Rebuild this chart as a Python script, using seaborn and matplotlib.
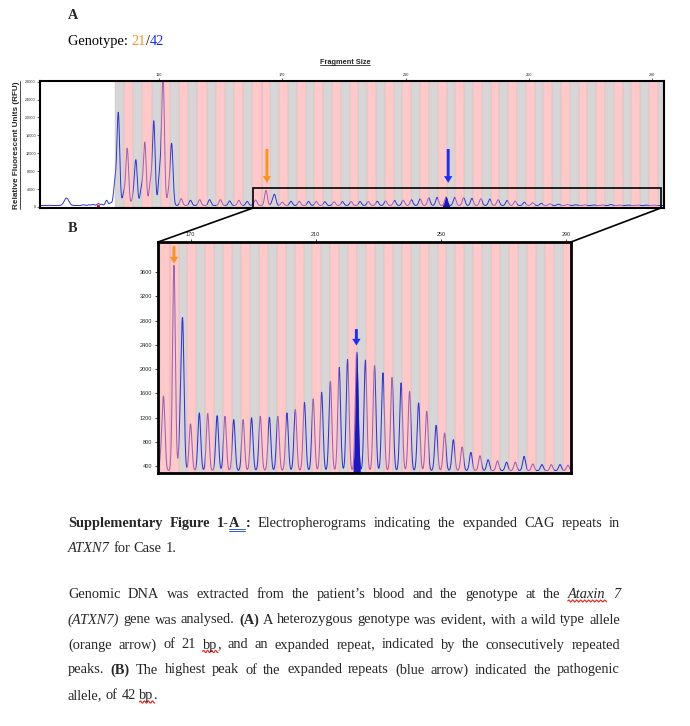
import numpy as np
import matplotlib
matplotlib.use("Agg")
import matplotlib.pyplot as plt
import seaborn as sns
from matplotlib.lines import Line2D
from matplotlib.patches import ConnectionPatch, Rectangle

FIG_W, FIG_H = 690, 726

# peaks: position (bp) and height (RFU)
pre_bp = [94.6, 100.0, 103.3, 105.4, 107.3, 108.6, 110.3, 111.4, 113.0, 114.3]
pre_rfu = [370, 2000, 300, 500, 500, 600, 750, 600, 1500, 900]
pre_width = [0.4, 0.75, 0.4, 0.4, 0.4, 0.4, 0.4, 0.4, 0.4, 0.4]

stutter_bp = [115.7, 116.8, 118.6, 119.7, 121.6, 122.5, 124.3, 125.4,
              127.2, 128.3, 130.2, 131.3, 133.2, 134.1]
stutter_rfu = [5200, 20900, 3000, 13000, 2200, 10300, 4100, 14300,
               5200, 19000, 7500, 29500, 3400, 13800]

small_bp = [137.2, 140.2, 143.2, 146.4, 149.9, 152.9, 155.9, 158.6]
small_rfu = [1870, 1500, 1640, 1640, 1640, 1350, 1500, 1250]

repeat_bp = [160.7, 161.4, 164.7, 166.8, 167.5, 170.0, 172.8, 175.5, 178.5,
             181.0, 183.8, 186.8, 189.5, 192.3, 195.2, 197.9, 200.8, 203.5,
             206.4, 209.2, 211.9, 214.7, 217.5, 220.2, 223.1, 225.9, 228.8,
             231.5, 234.4, 237.3, 240.0, 242.9, 245.5, 248.5, 251.2, 254.0,
             256.8, 259.6, 262.5, 265.1, 268.1, 271.0, 273.8, 276.6, 279.4,
             282.3, 285.3, 288.1, 290.6]
repeat_rfu = [600, 1470, 3710, 1100, 2590, 1100, 1280, 1270, 1235,
              1225, 1170, 1170, 1200, 1225, 1210, 1225, 1280, 1335,
              1455, 1510, 1620, 1800, 2030, 2160, 2280, 2150, 2060,
              1940, 1865, 1775, 1635, 1445, 1307, 1076, 950, 840,
              720, 630, 576, 510, 490, 470, 470, 565, 440,
              430, 430, 430, 420]

wild_type_bp = 164.7
pathogenic_bp = 223.1
red_marks_bp = [110.1]

A_TICKS_X = [130, 170, 210, 250, 290]
A_TICKS_Y = [0, 4000, 8000, 12000, 16000, 20000, 24000, 28000]
B_TICKS_Y = [400, 800, 1200, 1600, 2000, 2400, 2800, 3200, 3600]

BASELINE = 330
PEAK_SIGMA = 0.45
TRACE = "#3232d8"
PINK = (1.0, 0.58, 0.58)
GREY = "#d6d6d6"
ORANGE = "#f7941d"
BLUE = "#1a2cff"
SERIF = "Liberation Serif"

sns.set_theme(style="white")
plt.rcParams["font.family"] = ["Liberation Sans", "DejaVu Sans"]

# build the trace from the peak list
grid = np.linspace(91.0, 294.5, 9000)
signal = np.full_like(grid, float(BASELINE))
all_bp = pre_bp + stutter_bp + small_bp + repeat_bp
all_rfu = pre_rfu + stutter_rfu + small_rfu + repeat_rfu
all_w = pre_width + [PEAK_SIGMA] * (len(all_bp) - len(pre_bp))
for p, h, w in zip(all_bp, all_rfu, all_w):
    signal += max(h - BASELINE, 0) * np.exp(-0.5 * ((grid - p) / w) ** 2)

# allele bins (grey / pink alternating)
edges = list(np.arange(115.7, 163.3, 2.975)) + list(np.arange(163.3, 295.0, 2.855))


def px(x, y):
    return x / FIG_W, 1 - y / FIG_H


fig = plt.figure(figsize=(6.9, 7.26), dpi=100)
axA = fig.add_axes([40 / FIG_W, 1 - 208 / FIG_H, 624 / FIG_W, 127 / FIG_H])
axB = fig.add_axes([158 / FIG_W, 1 - 473 / FIG_H, 413 / FIG_W, 231 / FIG_H])


def draw_panel(ax, xlim, ylim, lw_spine, lw_trace):
    for i in range(len(edges) - 1):
        if i % 2 == 0:
            ax.axvspan(edges[i], edges[i + 1], color=GREY, lw=0, zorder=0)
        else:
            ax.axvspan(edges[i], edges[i + 1], color=PINK, alpha=0.5, lw=0, zorder=3)
    for e in edges:
        ax.axvline(e, color="#b89898", lw=0.3, alpha=0.5, zorder=3)
    sns.lineplot(x=grid, y=signal, ax=ax, color=TRACE, lw=lw_trace,
                 estimator=None, sort=False, zorder=2)
    sel = (grid > pathogenic_bp - 1.15) & (grid < pathogenic_bp + 1.15)
    ax.fill_between(grid[sel], 0, signal[sel], color="#1c16c4", lw=0, zorder=4)
    ax.set_xlim(*xlim)
    ax.set_ylim(*ylim)
    ax.set_xlabel("")
    ax.set_ylabel("")
    for sp in ax.spines.values():
        sp.set_linewidth(lw_spine)
        sp.set_color("black")
        sp.set_zorder(6)
    ax.xaxis.tick_top()


# Panel A
draw_panel(axA, (91.4, 293.8), (-225, 28135), 1.5, 0.7)
axA.set_xticks(A_TICKS_X)
axA.set_yticks(A_TICKS_Y)
axA.tick_params(axis="x", top=True, bottom=False, labeltop=True, labelbottom=False,
                length=2, width=0.5, labelsize=2.7, pad=1)
axA.tick_params(axis="y", left=True, length=2, width=0.5, labelsize=2.7, pad=1)
axA.plot(red_marks_bp, [120] * len(red_marks_bp), "s", color="red", ms=1.2, zorder=5)
axA.add_patch(Rectangle((160.5, -225), 292.8 - 160.5, 4276 + 225, fill=False,
                        ec="black", lw=1.2, zorder=7, clip_on=False))

arrow_style = "simple,head_length=0.6,head_width=0.75,tail_width=0.26"
for xb, col in [(wild_type_bp + 0.3, ORANGE), (pathogenic_bp + 0.7, BLUE)]:
    axA.annotate("", xy=(xb, 5400), xytext=(xb, 12950),
                 arrowprops=dict(arrowstyle=arrow_style, color=col, mutation_scale=8, lw=0,
                                 shrinkA=0, shrinkB=0), zorder=8)

# Panel B
draw_panel(axB, (159.6, 291.6), (291, 4094), 2.0, 0.75)
axB.set_xticks(A_TICKS_X[1:])
axB.set_yticks(B_TICKS_Y)
axB.tick_params(axis="x", top=True, bottom=False, labeltop=True, labelbottom=False,
                length=2.5, width=0.6, labelsize=4.0, pad=1)
axB.tick_params(axis="y", left=True, length=2.5, width=0.6, labelsize=4.0, pad=1.5)
for xb, y0, y1, col in [(wild_type_bp, 4030, 3740, ORANGE), (pathogenic_bp - 0.1, 2660, 2390, BLUE)]:
    axB.annotate("", xy=(xb, y1), xytext=(xb, y0),
                 arrowprops=dict(arrowstyle=arrow_style, color=col, mutation_scale=8, lw=0,
                                 shrinkA=0, shrinkB=0), zorder=8)

# zoom connectors
for xa, xbf in [(160.5, 0), (292.8, 1)]:
    con = ConnectionPatch(xyA=(xa, -225), coordsA=axA.transData, xyB=(xbf, 1),
                          coordsB=axB.transAxes, color="black", lw=1.2)
    fig.add_artist(con)

renderer = fig.canvas.get_renderer()


def text_w(s, **kw):
    t = fig.text(0, 0, s, **kw)
    w = t.get_window_extent(renderer).width
    t.remove()
    return w


# axis titles with underline
t = fig.text(*px(345, 62), "Fragment Size", ha="center", va="center",
             fontsize=5.3, weight="bold")
bb = t.get_window_extent(renderer)
fig.add_artist(Line2D([bb.x0 / 690, bb.x1 / 690], [(bb.y0 + 0.6) / 726] * 2,
                      color="black", lw=0.5))
t = fig.text(*px(17, 145), "Relative Fluorescent Units (RFU)", ha="center", va="center",
             rotation=90, fontsize=5.9, weight="bold")
bb = t.get_window_extent(renderer)
fig.add_artist(Line2D([(bb.x1 - 0.6) / 690] * 2, [bb.y0 / 726, bb.y1 / 726],
                      color="black", lw=0.5))

# panel letters and genotype
SIZE = 10.4
fig.text(*px(68, 19), "A", family=SERIF, weight="bold", fontsize=10.3, va="baseline")
fig.text(*px(68, 232), "B", family=SERIF, weight="bold", fontsize=10.3, va="baseline")
x = 68
for s, col in [("Genotype: ", "black"), ("21", ORANGE), ("/", "black"), ("42", BLUE)]:
    fig.text(*px(x, 45), s, family=SERIF, fontsize=10.4, color=col, va="baseline")
    x += text_w(s.replace(" ", "\u00a0"), family=SERIF, fontsize=10.4)

STYLES = {"": {}, "b": {"weight": "bold"}, "bu": {"weight": "bold"},
          "i": {"style": "italic"}, "isq": {"style": "italic"}, "sq": {}}


def words(s, kind=""):
    return [[(w, kind)] for w in s.split()]


def squiggle(x0, x1, y):
    xs = np.linspace(x0, x1, 40)
    ys = y - 1.1 * np.sin((xs - x0) * 2 * np.pi / 4.0)
    fig.add_artist(Line2D(xs / FIG_W, 1 - ys / FIG_H, color="#e8201a", lw=0.8))


def put_line(tokens, y, x0=68, x1=None):
    widths = [[text_w(s, family=SERIF, fontsize=SIZE, **STYLES[k]) for s, k in word]
              for word in tokens]
    total = sum(sum(ws) for ws in widths)
    gap = 3.6 if x1 is None else (x1 - x0 - total) / (len(tokens) - 1)
    x = x0
    for word, ws in zip(tokens, widths):
        for (s, k), w in zip(word, ws):
            fig.text(*px(x, y), s, family=SERIF, fontsize=SIZE, va="baseline", **STYLES[k])
            if k in ("isq", "sq"):
                squiggle(x, x + w + 1, y + 3)
            if k == "bu":
                for dy in (2.0, 4.0):
                    fig.add_artist(Line2D([x / FIG_W, (x + w + gap * 0.8) / FIG_W],
                                          [1 - (y + dy) / FIG_H] * 2, color="#2a5fd0", lw=0.7))
            x += w
        x += gap


RIGHT = 620
put_line(words("Supplementary Figure", "b") + [[("1-", "b"), ("A", "bu")], [(":", "b")]]
         + words("Electropherograms indicating the expanded CAG repeats in"), 527, x1=RIGHT)
put_line([[("ATXN7", "i")]] + words("for Case 1."), 552.5)
put_line(words("Genomic DNA was extracted from the patient\u2019s blood and the genotype at the")
         + [[("Ataxin", "isq")], [("7", "i")]], 598, x1=RIGHT)
put_line([[("(ATXN7)", "i")]] + words("gene was analysed.") + [[("(A)", "b")]]
         + words("A heterozygous genotype was evident, with a wild type allele"), 623.5, x1=RIGHT)
put_line(words("(orange arrow) of 21") + [[("bp", "sq"), (",", "")]]
         + words("and an expanded repeat, indicated by the consecutively repeated"), 648.5, x1=RIGHT)
put_line(words("peaks.") + [[("(B)", "b")]]
         + words("The highest peak of the expanded repeats (blue arrow) indicated the pathogenic"),
         673.5, x1=RIGHT)
put_line(words("allele, of 42") + [[("bp", "sq"), (".", "")]], 699)

fig.savefig("out.png", dpi=100)
